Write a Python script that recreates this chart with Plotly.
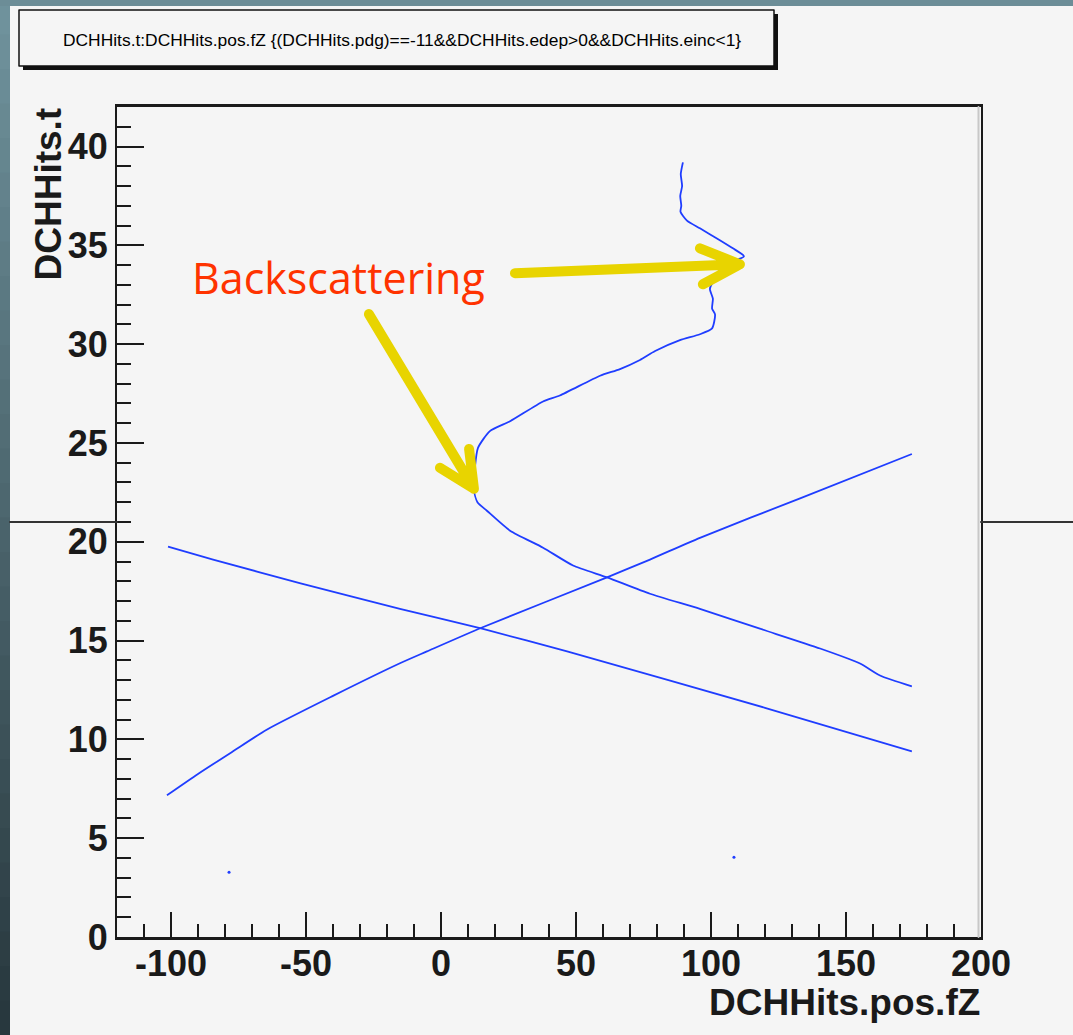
import plotly.graph_objects as go

# ---- data: DCH hit time vs z position ----
# rising track
rise_z = [-101.5, -90.0, -77.0, -64.4, -40.0, -15.2, -5.2, 15.2, 61.5, 77.4, 95.9, 133.0, 174.4]
rise_t = [7.17, 8.25, 9.4, 10.5, 12.2, 13.85, 14.45, 15.66, 18.2, 19.1, 20.2, 22.2, 24.44]

# falling track
fall_z = [-101.1, -84.4, -52.0, -15.2, 15.2, 46.7, 120.0, 174.4]
fall_t = [19.75, 19.1, 17.9, 16.6, 15.6, 14.45, 11.6, 9.39]

# looping track with two backscatter turns
loop_z = [89.6, 88.8, 89.3, 88.6, 89.0, 88.7, 91.1, 95.9, 102.2, 108.1, 112.2, 109.6,
          101.5, 99.6, 100.7, 100.4, 101.5, 100.4, 95.9, 88.5, 79.3, 73.7, 66.3, 58.9,
          44.0, 37.8, 25.6, 18.1, 13.7, 12.6, 12.2, 13.5, 17.0, 25.6, 37.8, 48.9, 61.5,
          77.4, 95.9, 118.1, 140.4, 155.2, 162.6, 174.4]
loop_t = [39.2, 38.6, 38.0, 37.5, 37.0, 36.7, 36.25, 35.86, 35.35, 34.85, 34.45, 34.24,
          33.28, 32.8, 32.3, 31.8, 31.5, 30.8, 30.5, 30.2, 29.65, 29.2, 28.74, 28.4,
          27.4, 27.1, 26.1, 25.6, 24.75, 23.8, 22.6, 22.0, 21.57, 20.56, 19.7, 18.8, 18.2,
          17.37, 16.6, 15.6, 14.6, 13.84, 13.23, 12.68]

# isolated hits
dot_z = [-78.5, 108.5]
dot_t = [3.28, 4.04]

x_ticks = [-100, -50, 0, 50, 100, 150, 200]
y_ticks = [0, 5, 10, 15, 20, 25, 30, 35, 40]

title_text = "DCHHits.t:DCHHits.pos.fZ {(DCHHits.pdg)==-11&&DCHHits.edep>0&&DCHHits.einc<1}"

# ---- canvas geometry (pixels) ----
W, H = 1073, 1035
L, R, T, B = 117, 981, 107, 937
BG = "#f5f5f5"
INK = "#1a1a1a"
TRACK = "#1f3dff"
ARROW = "#e8d400"


def px(x):
    return (x - L) / (R - L)


def py(y):
    return (B - y) / (B - T)


fig = go.Figure()
line_style = dict(color=TRACK, width=1.8, shape="spline", smoothing=0.6)
fig.add_trace(go.Scatter(x=rise_z, y=rise_t, mode="lines", line=line_style, showlegend=False))
fig.add_trace(go.Scatter(x=fall_z, y=fall_t, mode="lines", line=line_style, showlegend=False))
fig.add_trace(go.Scatter(x=loop_z, y=loop_t, mode="lines", line=line_style, showlegend=False))
fig.add_trace(go.Scatter(x=dot_z, y=dot_t, mode="markers",
                         marker=dict(color=TRACK, size=3), showlegend=False))

shapes = []

# slate strips along the top and left edges
n_bands = 30
top_rgb = (111, 146, 156)
bot_rgb = (40, 56, 62)
for i in range(n_bands):
    f = i / (n_bands - 1)
    c = tuple(round(a + (b - a) * f) for a, b in zip(top_rgb, bot_rgb))
    y0 = H * i / n_bands
    y1 = H * (i + 1) / n_bands + 1
    shapes.append(dict(type="rect", xref="paper", yref="paper",
                       x0=px(0), x1=px(10), y0=py(y0), y1=py(y1),
                       fillcolor="rgb(%d,%d,%d)" % c, line=dict(width=0), layer="below"))
shapes.append(dict(type="rect", xref="paper", yref="paper",
                   x0=px(0), x1=px(W), y0=py(0), y1=py(6),
                   fillcolor="rgb(108,141,151)", line=dict(width=0), layer="below"))

# horizontal rule crossing the page behind the frame
for xa, xb in [(10, L), (R, W)]:
    shapes.append(dict(type="line", xref="paper", yref="paper",
                       x0=px(xa), x1=px(xb), y0=py(522), y1=py(522),
                       line=dict(color="#333333", width=2)))

# title pave with drop shadow
shapes.append(dict(type="rect", xref="paper", yref="paper",
                   x0=px(23), x1=px(778), y0=py(14), y1=py(70),
                   fillcolor="#111111", line=dict(width=0)))
shapes.append(dict(type="rect", xref="paper", yref="paper",
                   x0=px(19), x1=px(774), y0=py(10), y1=py(66),
                   fillcolor=BG, line=dict(color="#111111", width=1.5)))

# frame shadow inside right edge
shapes.append(dict(type="line", xref="paper", yref="paper",
                   x0=px(R - 2.5), x1=px(R - 2.5), y0=0, y1=1,
                   line=dict(color="#c8c8c8", width=2)))

# pointer arrows (data coordinates)
arrows = [
    dict(tail=(27.4, 33.59), tip=(110.7, 34.04), arm1=(95.9, 34.85), arm2=(97.0, 33.03)),
    dict(tail=(-26.7, 31.52), tip=(12.2, 22.68), arm1=(10.4, 24.7), arm2=(-0.4, 23.74)),
]
for a in arrows:
    path = "M {0},{1} L {2},{3} M {4},{5} L {2},{3} L {6},{7}".format(
        a["tail"][0], a["tail"][1], a["tip"][0], a["tip"][1],
        a["arm1"][0], a["arm1"][1], a["arm2"][0], a["arm2"][1])
    shapes.append(dict(type="path", xref="x", yref="y", path=path,
                       line=dict(color=ARROW, width=10)))

annotations = [
    dict(text=title_text, xref="paper", yref="paper", x=px(402), y=py(40),
         xanchor="center", yanchor="middle", showarrow=False,
         font=dict(family="Liberation Sans", size=17.4, color="#000000")),
    dict(text="Backscattering", xref="paper", yref="paper", x=px(190), y=py(277),
         xanchor="left", yanchor="middle", showarrow=False,
         font=dict(family="Open Sans", size=43, color="#ff3300")),
    dict(text="DCHHits.pos.fZ", xref="paper", yref="paper", x=px(982), y=py(1002),
         xanchor="right", yanchor="middle", showarrow=False,
         font=dict(family="Liberation Sans", size=37, color=INK, weight="bold")),
    dict(text="DCHHits.t", xref="paper", yref="paper", x=px(48), y=py(106),
         xanchor="center", yanchor="top", textangle=-90, showarrow=False,
         font=dict(family="Liberation Sans", size=37, color=INK, weight="bold")),
]

tick_font = dict(family="Liberation Sans", size=36, color=INK, weight="bold")

fig.update_layout(
    width=W, height=H,
    margin=dict(l=L, r=W - R, t=T, b=H - B, pad=0),
    paper_bgcolor=BG, plot_bgcolor=BG,
    shapes=shapes, annotations=annotations,
    xaxis=dict(range=[-120, 200], tickmode="array", tickvals=x_ticks,
               ticktext=[str(v) for v in x_ticks],
               ticks="inside", ticklen=25, tickwidth=2, tickcolor=INK,
               minor=dict(dtick=10, tick0=0, ticks="inside", ticklen=13, tickwidth=2, tickcolor=INK),
               showline=True, linewidth=2.5, linecolor=INK, mirror=True,
               showgrid=False, zeroline=False, tickfont=tick_font,
               ticklabelstandoff=-7),
    yaxis=dict(range=[0, 42], tickmode="array", tickvals=y_ticks,
               ticktext=[str(v) for v in y_ticks],
               ticks="inside", ticklen=27, tickwidth=2, tickcolor=INK,
               minor=dict(dtick=1, tick0=0, ticks="inside", ticklen=14, tickwidth=2, tickcolor=INK),
               showline=True, linewidth=2, linecolor=INK, mirror=True,
               showgrid=False, zeroline=False, tickfont=tick_font),
)

round_caps = """
document.querySelectorAll('.shapelayer path').forEach(function(p){
  p.style.strokeLinecap = 'round';
  p.style.strokeLinejoin = 'round';
});
"""

fig.write_html("out.html", post_script=round_caps)
